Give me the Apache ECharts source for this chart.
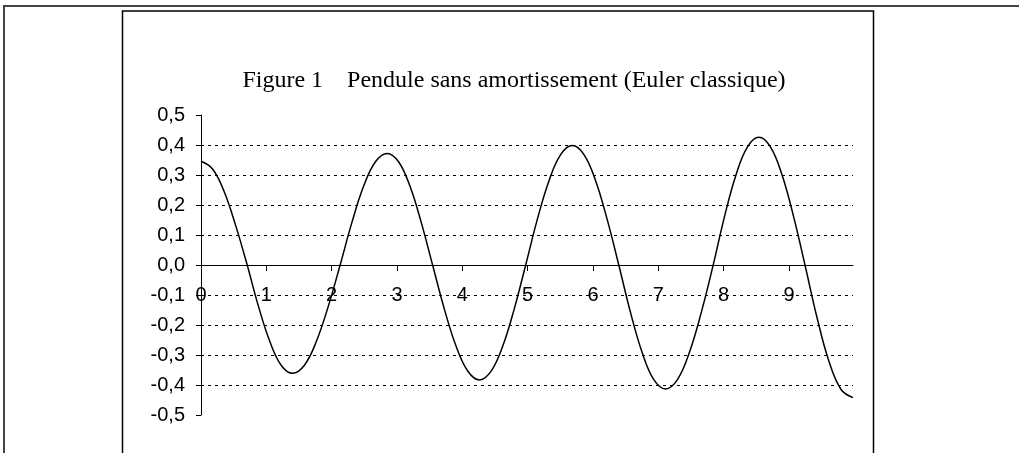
<!DOCTYPE html>
<html>
<head>
<meta charset="utf-8">
<script src="https://cdn.jsdelivr.net/npm/echarts@6/dist/echarts.min.js"></script>
<style>
  html, body { margin: 0; padding: 0; background: #fff; }
  #main { width: 1019px; height: 453px; }
</style>
</head>
<body>
<div id="main"></div>
<script>
// temps (s) et angle (rad)
const times = [
  0, 0.177, 0.354, 0.53, 0.707, 0.88, 1.054, 1.227,
  1.40, 1.583, 1.765, 1.948, 2.13, 2.31, 2.49, 2.67,
  2.85, 3.024, 3.198, 3.371, 3.545, 3.725, 3.905, 4.085,
  4.265, 4.441, 4.618, 4.794, 4.97, 5.148, 5.327, 5.505,
  5.684, 5.862, 6.04, 6.217, 6.395, 6.574, 6.753, 6.931,
  7.11, 7.293, 7.475, 7.658, 7.84, 8.015, 8.19, 8.365,
  8.54, 8.716, 8.893, 9.069, 9.245, 9.429, 9.613, 9.797, 9.98
];
const angles = [
  0.346, 0.32, 0.245, 0.132, 0, -0.138, -0.255, -0.334,
  -0.361, -0.334, -0.255, -0.138, 0, 0.142, 0.263, 0.344,
  0.372, 0.344, 0.263, 0.142, 0, -0.147, -0.271, -0.354,
  -0.383, -0.354, -0.271, -0.147, 0, 0.152, 0.281, 0.368,
  0.398, 0.368, 0.281, 0.152, 0, -0.158, -0.292, -0.382,
  -0.413, -0.382, -0.292, -0.158, 0, 0.163, 0.301, 0.394,
  0.426, 0.394, 0.301, 0.163, 0, -0.175, -0.322, -0.415, -0.442
];
const xTicks = [0, 1, 2, 3, 4, 5, 6, 7, 8, 9];
const titleText = 'Figure 1\u00a0\u00a0\u00a0\u00a0Pendule sans amortissement (Euler classique)';

let chart = echarts.init(document.getElementById('main'));

let points = times.map(function (t, i) { return [t, angles[i]]; });

let option = {
    animation: false,
    backgroundColor: '#fff',
    grid: { left: 201, right: 166, top: 115, bottom: 38 },
    graphic: [
        {
            type: 'rect',
            shape: { x: 4, y: 6, width: 1100, height: 500 },
            style: { fill: 'none', stroke: '#444', lineWidth: 2 }
        },
        {
            type: 'rect',
            shape: { x: 122.5, y: 11, width: 751, height: 500 },
            style: { fill: 'none', stroke: '#000', lineWidth: 1.5 }
        },
        {
            type: 'text',
            x: 514,
            y: 81,
            style: {
                text: titleText,
                font: '24px "Liberation Serif"',
                fill: '#000',
                textAlign: 'center',
                textVerticalAlign: 'middle'
            }
        }
    ],
    xAxis: {
        type: 'value',
        min: 0,
        max: 9.98,
        interval: 1,
        // l'axe est remonté sur y = 0 (les étiquettes suivent)
        offset: -150,
        axisLine: { onZero: false, lineStyle: { color: '#000', width: 1 } },
        axisTick: { show: true, length: 6, customValues: [1, 2, 3, 4, 5, 6, 7, 8, 9], lineStyle: { color: '#000' } },
        axisLabel: {
            customValues: xTicks,
            margin: 20,
            color: '#000',
            fontFamily: 'Liberation Sans',
            fontSize: 20
        },
        splitLine: { show: false }
    },
    yAxis: {
        type: 'value',
        min: -0.5,
        max: 0.5,
        interval: 0.1,
        axisLine: { show: true, onZero: false, lineStyle: { color: '#000', width: 1 } },
        axisTick: { show: true, length: 5, lineStyle: { color: '#000' } },
        axisLabel: {
            margin: 16,
            color: '#000',
            fontFamily: 'Liberation Sans',
            fontSize: 20,
            formatter: function (v) { return v.toFixed(1).replace('.', ','); }
        },
        splitLine: {
            show: true,
            showMinLine: false,
            showMaxLine: false,
            lineStyle: { color: '#000', type: [3, 4], width: 1 }
        }
    },
    series: [{
        type: 'line',
        data: points,
        smooth: 0.4,
        showSymbol: false,
        lineStyle: { color: '#000', width: 1.5 }
    }]
};

chart.setOption(option);
</script>
</body>
</html>
